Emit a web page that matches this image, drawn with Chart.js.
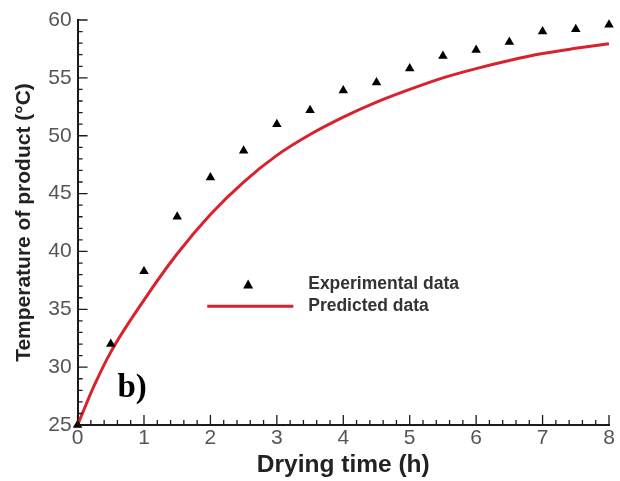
<!DOCTYPE html>
<html>
<head>
<meta charset="utf-8">
<script src="https://cdn.jsdelivr.net/npm/chart.js@4.4.1/dist/chart.umd.min.js"></script>
<style>
  html, body { margin: 0; padding: 0; background: #ffffff; }
  #wrap { position: relative; width: 620px; height: 481px; }
</style>
</head>
<body>
<div id="wrap"><canvas id="c" width="620" height="481"></canvas></div>
<script>
// ---- data ----
const expTime = [0, 0.5, 1, 1.5, 2, 2.5, 3, 3.5, 4, 4.5, 5, 5.5, 6, 6.5, 7, 7.5, 8];
const expTemp = [25, 32.0, 38.3, 43.0, 46.4, 48.7, 51.0, 52.2, 53.9, 54.6, 55.8, 56.9, 57.4, 58.1, 59.0, 59.2, 59.6];
const predTime = [0, 0.25, 0.5, 1, 1.5, 2, 2.5, 3, 3.5, 4, 4.5, 5, 5.5, 6, 6.5, 7, 7.5, 8];
const predTemp = [25, 28.4, 31.3, 35.8, 39.8, 43.2, 46.0, 48.3, 50.1, 51.6, 52.9, 54.0, 55.0, 55.8, 56.5, 57.1, 57.55, 57.95];
const seriesNames = ['Experimental data', 'Predicted data'];
const xTitle = 'Drying time (h)';
const yTitle = 'Temperature of product (°C)';
const panelLabel = 'b)';

const toPts = (xs, ys) => xs.map((x, i) => ({ x: x, y: ys[i] }));

const RED = '#d8222d';
const AXIS = '#1a1a1a';

// inward major/minor ticks
const innerTicks = {
  id: 'innerTicks',
  afterDatasetsDraw(chart) {
    const ctx = chart.ctx, xs = chart.scales.x, ys = chart.scales.y;
    const ca = chart.chartArea;
    ctx.save();
    ctx.strokeStyle = AXIS;
    ctx.lineWidth = 1.3;
    ctx.beginPath();
    for (let i = 0; i <= 40; i++) {
      const v = i * 0.2;
      const px = xs.getPixelForValue(v);
      const len = (i % 5 === 0) ? 10 : 5;
      ctx.moveTo(px, ca.bottom);
      ctx.lineTo(px, ca.bottom - len);
    }
    for (let i = 0; i <= 35; i++) {
      const v = 25 + i;
      const py = ys.getPixelForValue(v);
      const len = (i % 5 === 0) ? 10 : 5;
      ctx.moveTo(ca.left, py);
      ctx.lineTo(ca.left + len, py);
    }
    ctx.stroke();
    ctx.restore();
  }
};

// in-plot legend and panel label
const annot = {
  id: 'annot',
  afterDraw(chart) {
    const ctx = chart.ctx, ca = chart.chartArea;
    const W = ca.right - ca.left, H = ca.bottom - ca.top;
    const fx = f => ca.left + f * W, fy = f => ca.top + f * H;
    ctx.save();
    // triangle marker
    const tx = fx(0.321), ty = fy(0.653);
    ctx.fillStyle = '#000';
    ctx.beginPath();
    ctx.moveTo(tx, ty - 5);
    ctx.lineTo(tx + 5, ty + 4);
    ctx.lineTo(tx - 5, ty + 4);
    ctx.closePath();
    ctx.fill();
    // red line
    const ly = fy(0.707);
    ctx.strokeStyle = RED;
    ctx.lineWidth = 3;
    ctx.beginPath();
    ctx.moveTo(fx(0.244), ly);
    ctx.lineTo(fx(0.406), ly);
    ctx.stroke();
    ctx.fillStyle = '#333';
    ctx.font = 'bold 17.5px "Liberation Sans", Arial, sans-serif';
    ctx.textBaseline = 'middle';
    ctx.textAlign = 'left';
    ctx.fillText(seriesNames[0], fx(0.434), ty);
    ctx.fillText(seriesNames[1], fx(0.434), ly);
    // panel label
    ctx.fillStyle = '#000';
    ctx.font = 'bold 33px "Liberation Serif", "Times New Roman", serif';
    ctx.textBaseline = 'alphabetic';
    ctx.fillText(panelLabel, fx(0.075), fy(0.93));
    ctx.restore();
  }
};

new Chart(document.getElementById('c'), {
  type: 'scatter',
  data: {
    datasets: [
      {
        label: seriesNames[1],
        data: toPts(predTime, predTemp),
        showLine: true,
        borderColor: RED,
        backgroundColor: RED,
        borderWidth: 3,
        pointRadius: 0,
        cubicInterpolationMode: 'monotone',
        order: 2
      },
      {
        label: seriesNames[0],
        data: toPts(expTime, expTemp),
        showLine: false,
        pointStyle: 'triangle',
        pointRadius: 5.5,
        backgroundColor: '#000',
        borderColor: '#000',
        borderWidth: 0,
        order: 1
      }
    ]
  },
  options: {
    responsive: false,
    animation: false,
    clip: false,
    layout: { padding: { top: 20, right: 11, bottom: 2, left: 12 } },
    plugins: { legend: { display: false }, tooltip: { enabled: false } },
    scales: {
      x: {
        type: 'linear', min: 0, max: 8,
        grid: { display: false, drawTicks: false, tickLength: 0 },
        border: { display: true, color: AXIS, width: 2 },
        ticks: { stepSize: 1, color: '#555', padding: 3,
                 font: { family: '"Liberation Sans", Arial, sans-serif', size: 21, lineHeight: 1.0 } },
        title: { display: true, text: xTitle, color: '#222', padding: { top: 0, bottom: 0 },
                 font: { family: '"Liberation Sans", Arial, sans-serif', size: 24.5, weight: 'bold', lineHeight: 1.1 } }
      },
      y: {
        type: 'linear', min: 25, max: 60,
        grid: { display: false, drawTicks: false, tickLength: 0 },
        border: { display: true, color: AXIS, width: 2 },
        ticks: { stepSize: 5, color: '#555', padding: 6,
                 font: { family: '"Liberation Sans", Arial, sans-serif', size: 21 } },
        title: { display: true, text: yTitle, color: '#222', padding: { top: 0, bottom: 5 },
                 font: { family: '"Liberation Sans", Arial, sans-serif', size: 21, weight: 'bold' } }
      }
    }
  },
  plugins: [innerTicks, annot]
});
</script>
</body>
</html>
